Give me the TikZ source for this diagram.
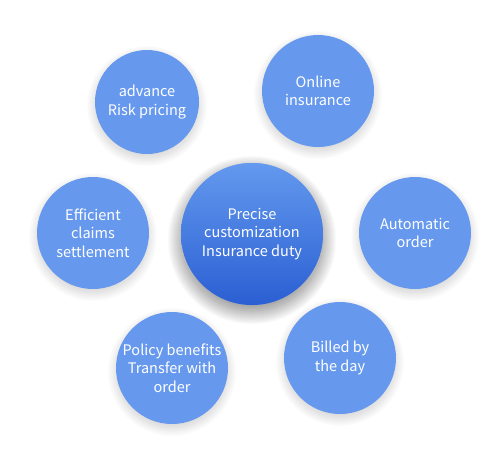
\documentclass[tikz,border=0pt]{standalone}
\usepackage{fontspec}
\setmainfont{Noto Sans CJK SC}
\usetikzlibrary{shadows.blur}

\definecolor{bubbleblue}{HTML}{6699EE}
\definecolor{coretop}{HTML}{6399EE}
\definecolor{corebottom}{HTML}{2B5FD3}

\tikzset{
  bubble/.style={circle, fill=bubbleblue, text=white, align=center,
    inner sep=0pt, font=\fontsize{14.5}{18.5}\selectfont,
    blur shadow={shadow xshift=0pt, shadow yshift=-4pt,
      shadow blur radius=9pt, shadow blur steps=30, shadow opacity=20}},
  core/.style={bubble, top color=coretop, bottom color=corebottom,
    blur shadow={shadow xshift=0pt, shadow yshift=-6pt,
      shadow blur radius=14pt, shadow blur steps=50, shadow opacity=28}}
}

\begin{document}
\begin{tikzpicture}[x=1pt,y=-1pt]
  % fixed frame
  \useasboundingbox (0,0) rectangle (500,450);
  % outer bubbles
  \node[bubble, minimum size=104pt] (pricing) at (147,102) {advance\\Risk pricing};
  \node[bubble, minimum size=112pt] (online) at (318,91) {Online\\insurance};
  \node[bubble, minimum size=112pt] (claims) at (93,233) {Efficient\\claims\\settlement};
  \node[bubble, minimum size=112pt] (auto) at (415,233) {Automatic\\order};
  \node[bubble, minimum size=112pt] (policy) at (172,368) {Policy benefits\\Transfer with\\order};
  \node[bubble, minimum size=112pt] (billed) at (340,358) {Billed by\\the day};
  % centre bubble
  \node[core, minimum size=142pt] (precise) at (252,234) {Precise\\customization\\Insurance duty};
\end{tikzpicture}
\end{document}
